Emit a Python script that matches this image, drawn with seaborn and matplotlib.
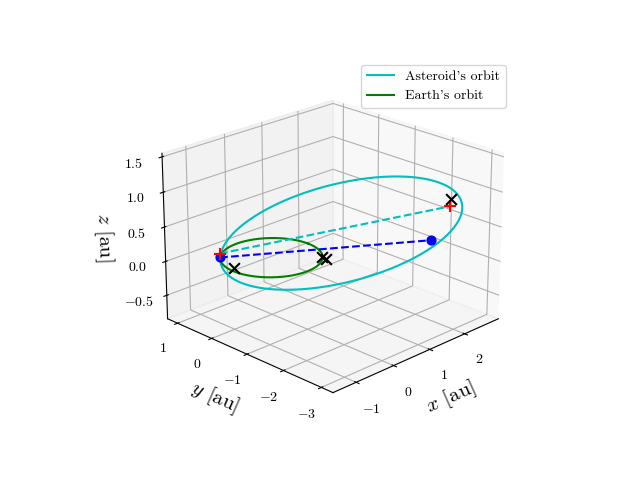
import numpy as np
import matplotlib
matplotlib.use("Agg")
import matplotlib.pyplot as plt
import seaborn as sns

plt.rcParams["font.family"] = "serif"
plt.rcParams["font.serif"] = ["cmr10"]
plt.rcParams["mathtext.fontset"] = "cm"
plt.rcParams["axes.formatter.use_mathtext"] = True

# ------- orbit parameters -------
earth_r   = 1.0
ast_a     = 2.35     # semi major axis [au]
ast_e     = 0.575
peri_dir  = 136.0    # direction of perihelion in degrees
z_slope   = 0.16     # tilt along major axis
z_side    = 0.10     # tilt along minor axis

# ------- marked points -------
blue_x  = [-0.72, 2.65]
blue_y  = [0.70, -1.80]
blue_z  = [0.0, 0.08]
plus_x  = [-0.70, 2.52]
plus_y  = [0.72, -2.40]
plus_z  = [0.05, 0.72]
cross_x = [-0.62, 0.70, 0.74, 2.52]
cross_y = [0.42, -0.70, -0.78, -2.40]
cross_z = [-0.12, 0.0, -0.02, 0.82]

nu  = np.linspace(0, 2*np.pi, 400)
u   = np.array([np.cos(np.radians(peri_dir)), np.sin(np.radians(peri_dir))])
w   = np.array([-u[1], u[0]])
r   = ast_a*(1 - ast_e**2)/(1 + ast_e*np.cos(nu))
ax_x = r*np.cos(nu)*u[0] + r*np.sin(nu)*w[0]
ax_y = r*np.cos(nu)*u[1] + r*np.sin(nu)*w[1]
ax_z = z_slope*(1 - r*np.cos(nu)) - z_side*r*np.sin(nu)

ex = earth_r*np.cos(nu)
ey = earth_r*np.sin(nu)
ez = np.zeros_like(nu)

fig = plt.figure(figsize=(6.4, 4.8))
ax = fig.add_subplot(projection="3d")
ax.plot(ax_x, ax_y, ax_z, color="c", label="Asteroid's orbit")
ax.plot(ex, ey, ez, color="g", label="Earth's orbit")
ax.plot(blue_x, blue_y, blue_z, "b--")
ax.plot(plus_x, plus_y, plus_z, "c--")
ax.scatter(blue_x, blue_y, blue_z, color="b", s=40, depthshade=False)
ax.scatter(plus_x, plus_y, plus_z, color="r", marker="+", s=80, depthshade=False)
ax.scatter(cross_x, cross_y, cross_z, color="k", marker="x", s=60, depthshade=False)

ax.set_xlim(-1.6, 3.0)
ax.set_ylim(-3.3, 1.3)
ax.set_zlim(-0.85, 1.55)
ax.set_xticks([-1, 0, 1, 2])
ax.set_yticks([-3, -2, -1, 0, 1])
ax.set_zticks([-0.5, 0.0, 0.5, 1.0, 1.5])
ax.set_xlabel(r"$x$ [au]", fontsize=15)
ax.set_ylabel(r"$y$ [au]", fontsize=15)
ax.set_zlabel(r"$z$ [au]", fontsize=15)
ax.view_init(elev=22, azim=-135)
ax.legend(loc="upper right")

plt.savefig("out.png", dpi=100)
